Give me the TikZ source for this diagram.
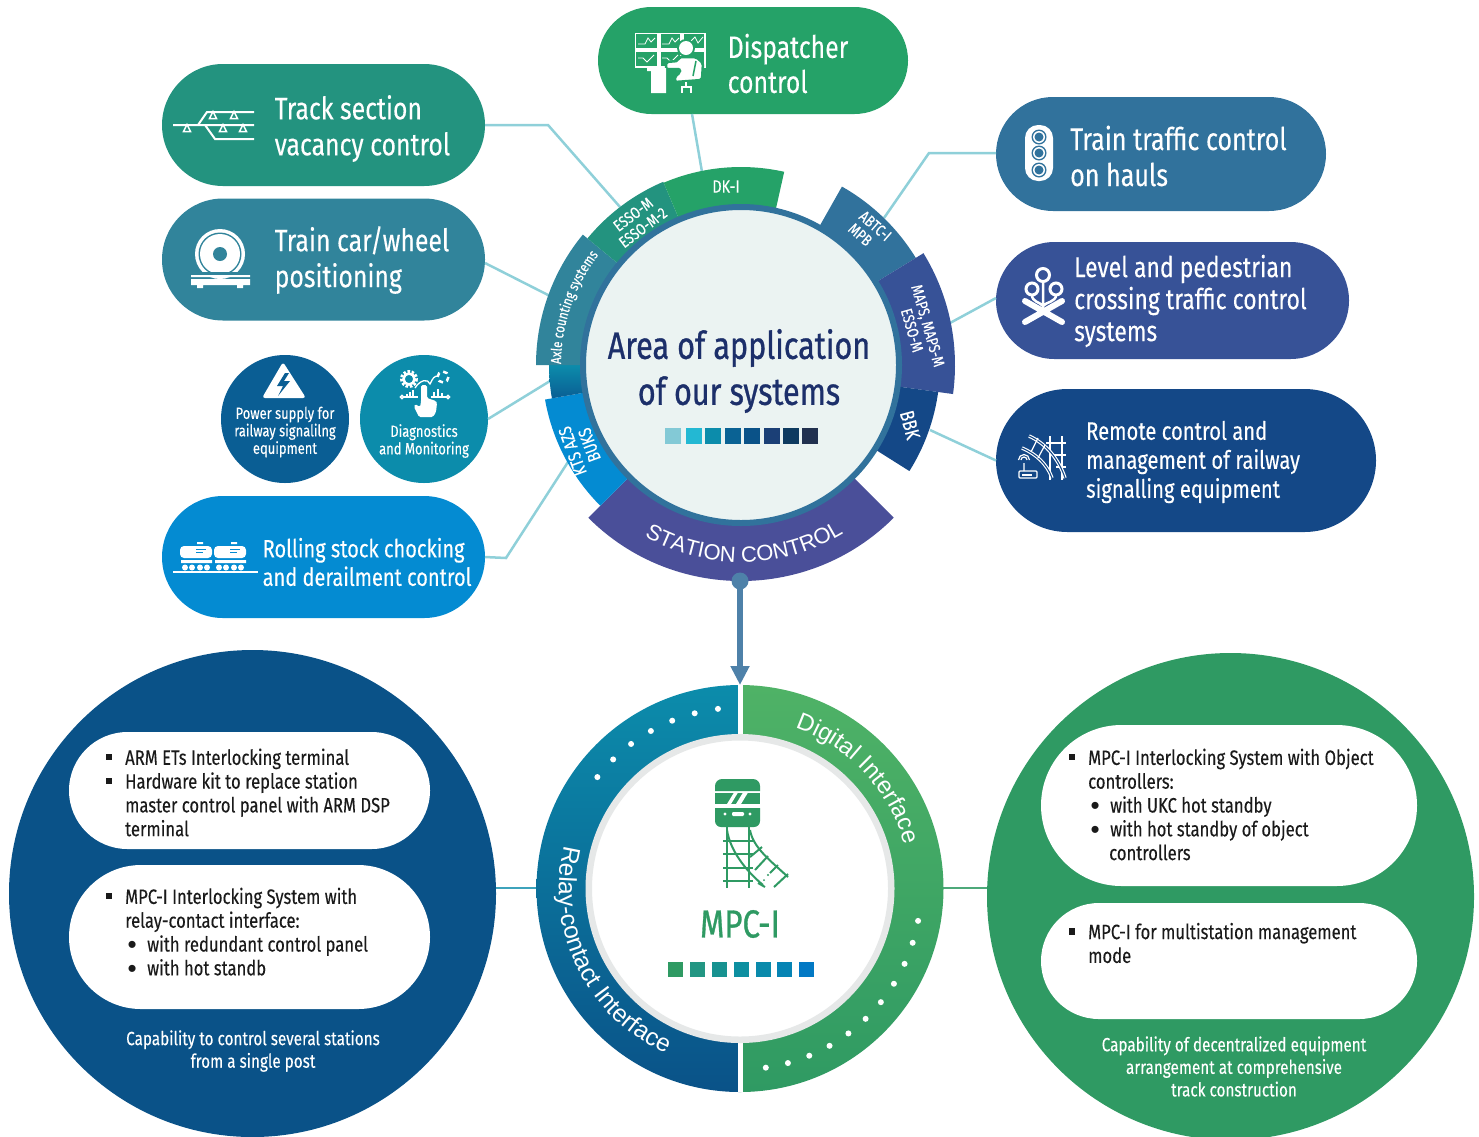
\documentclass[tikz,border=0pt]{standalone}
\usepackage{fontspec}
\setmainfont[FakeStretch=0.8,FakeBold=0.2]{Fira Sans}
\newfontfamily\corefont[FakeStretch=0.8,FakeBold=0.8]{Fira Sans}
\newfontfamily\arcfont{Liberation Sans}
\usetikzlibrary{arrows.meta,shapes.misc,decorations.text}

\definecolor{ctrack}{HTML}{23937F}
\definecolor{caxle}{HTML}{31849B}
\definecolor{croll}{HTML}{048BD2}
\definecolor{cdisp}{HTML}{25A268}
\definecolor{chaul}{HTML}{31729C}
\definecolor{clevel}{HTML}{375297}
\definecolor{cremote}{HTML}{144887}
\definecolor{cpower}{HTML}{0A5E94}
\definecolor{cdiag}{HTML}{0C8CAB}
\definecolor{cstation}{HTML}{4A4F99}
\definecolor{ccore}{HTML}{EBF3F2}
\definecolor{cnavy}{HTML}{1C2F6A}
\definecolor{cwire}{HTML}{8FD0D9}
\definecolor{carrow}{HTML}{4E81A9}
\definecolor{cblue}{HTML}{0A5288}
\definecolor{cgreen}{HTML}{2F9A63}
\definecolor{cgray}{HTML}{E6E8E8}
\definecolor{cink}{HTML}{1A1A1A}

\newcommand{\ringseg}[5]{\fill[#1] (#2:#4) arc[start angle=#2,end angle=#3,radius=#4] -- (#3:#5) arc[start angle=#3,end angle=#2,radius=#5] -- cycle;}
\newcommand{\sqitem}{\llap{\rule[0.22em]{6.5pt}{6.5pt}\hspace{13pt}}}
\newcommand{\dotitem}{\hspace*{22pt}\llap{\raisebox{-2pt}{\arcfont\fontsize{26}{20}\selectfont\textbullet}\hspace{10.5pt}}}

\begin{document}
\begin{tikzpicture}[x=1pt,y=-1pt]

\tikzstyle{pill}=[rounded rectangle,inner sep=0pt,outer sep=0pt,minimum height=122pt,minimum width=323pt]
\tikzstyle{disc}=[circle,inner sep=0pt,outer sep=0pt,minimum size=128pt]
\tikzstyle{bigdisc}=[circle,inner sep=0pt,outer sep=0pt,minimum size=487pt]
\tikzstyle{whitepill}=[rounded rectangle,inner sep=0pt,outer sep=0pt,fill=white]
\tikzstyle{pilltext}=[anchor=west,inner sep=0pt,align=left,text=white]
\tikzstyle{disctext}=[inner sep=0pt,align=center,text=white,font=\fontsize{16.2}{17.5}\selectfont]
\tikzstyle{listtext}=[anchor=west,inner sep=0pt,align=left,text=cink,font=\fontsize{20.8}{23.8}\selectfont]
\tikzstyle{captext}=[inner sep=0pt,align=center,text=white,font=\fontsize{19.1}{22.6}\selectfont]
\tikzstyle{seglabel}=[inner sep=0pt,align=center,text=white,font=\fontsize{16}{16.5}\selectfont]
\tikzstyle{wire}=[cwire,line width=2.5pt]
\tikzstyle{swatch}=[inner sep=0pt,outer sep=0pt,minimum size=16pt]
\tikzstyle{swatchb}=[inner sep=0pt,outer sep=0pt,minimum size=15pt]

\useasboundingbox (0,0) rectangle (1479,1136);

\node [pill,fill=ctrack] (track) at (323.5,125){};
\node [pill,fill=caxle] (wheel) at (323.5,259.5){};
\node [pill,fill=croll] (roll) at (323.5,557){};
\node [pill,fill=cdisp,minimum width=310pt,minimum height=107pt] (disp) at (753,60.5){};
\node [pill,fill=chaul,minimum width=330pt,minimum height=114pt] (haul) at (1161,154){};
\node [pill,fill=clevel,minimum width=353pt,minimum height=117pt] (level) at (1172.5,300.5){};
\node [pill,fill=cremote,minimum width=380pt,minimum height=143pt] (remote) at (1186,460.5){};
\node [disc,fill=cpower] (power) at (285,419){};
\node [disc,fill=cdiag] (diag) at (424,419){};

\node [pilltext,font=\fontsize{31}{36}\selectfont] (track_t) at ([xshift=112.5pt,yshift=-3.5pt]track.west){Track section\\vacancy control};
\node [pilltext,font=\fontsize{31}{36}\selectfont] (wheel_t) at ([xshift=112.5pt,yshift=-0.5pt]wheel.west){Train car/wheel\\positioning};
\node [pilltext,font=\fontsize{25}{28.5}\selectfont] (roll_t) at ([xshift=100.5pt,yshift=-5pt]roll.west){Rolling stock chocking\\and derailment control};
\node [pilltext,font=\fontsize{31}{35}\selectfont] (disp_t) at ([xshift=129.5pt,yshift=-3pt]disp.west){Dispatcher\\control};
\node [pilltext,font=\fontsize{31.3}{36}\selectfont] (haul_t) at ([xshift=74pt,yshift=-2pt]haul.west){Train traffic control\\on hauls};
\node [pilltext,font=\fontsize{28.7}{32}\selectfont] (level_t) at ([xshift=78pt,yshift=-0.5pt]level.west){Level and pedestrian\\crossing traffic control\\systems};
\node [pilltext,font=\fontsize{25.3}{29}\selectfont] (remote_t) at ([xshift=90pt,yshift=-1.5pt]remote.west){Remote control and\\management of railway\\signalling equipment};
\node [disctext] (power_t) at (285,432){Power supply for\\railway signalilng\\equipment};
\node [disctext] (diag_t) at (424,441){Diagnostics\\and Monitoring};

\coordinate (track_k) at (548,125);
\coordinate (track_e) at (620,207);
\coordinate (wheel_e) at (550,296);
\coordinate (diag_e) at (550,381);
\coordinate (roll_k) at (506,558);
\coordinate (roll_e) at (568,462);
\coordinate (disp_e) at (702,172);
\coordinate (haul_k) at (929,153);
\coordinate (haul_e) at (884,218);
\coordinate (level_e) at (950,323);
\coordinate (remote_e) at (930,430);

\draw[wire] (track.east)--(track_k)--(track_e);
\draw[wire] ([yshift=-3.5pt]wheel.east)--(wheel_e);
\draw[wire] (diag.east)--(diag_e);
\draw[wire] (roll.east)--(roll_k)--(roll_e);
\draw[wire] ([xshift=-61pt]disp.south)--(disp_e);
\draw[wire] ([yshift=1pt]haul.west)--(haul_k)--(haul_e);
\draw[wire] ([yshift=2.5pt]level.west)--(level_e);
\draw[wire] (remote.west)--(remote_e);

\begin{scope}[shift={(741,365)}]
\ringseg{cstation}{45}{135}{150}{216}
\ringseg{croll}{135}{170}{150}{199}
\shade[top color=cdiag,bottom color=cpower] (170:150) arc[start angle=170,end angle=180,radius=150] -- (180:192) arc[start angle=180,end angle=170,radius=192] -- cycle;
\ringseg{caxle}{180}{219.5}{150}{205}
\ringseg{ctrack}{219.5}{247}{150}{199}
\ringseg{cdisp}{247}{282.6}{150}{198}
\ringseg{chaul}{299.5}{328.5}{150}{205}
\ringseg{clevel}{328.5}{367.8}{150}{214}
\ringseg{cremote}{7.8}{32.2}{150}{199}
\path[decorate,decoration={text along path,text align=center,text color=white,text={|\arcfont\fontsize{22}{22}\selectfont|STATION CONTROL}}] (134:197) arc[start angle=134,end angle=44,radius=197];
\path[decorate,decoration={text along path,text align=center,text color=white,text={|\fontsize{14.6}{15}\selectfont|Axle counting systems}}] (180:180) arc[start angle=180,end angle=218,radius=180];
\end{scope}

\node [circle,inner sep=0pt,outer sep=0pt,minimum size=316pt,fill=ccore,draw=chaul,line width=6pt] (core) at (741,365){};
\node [inner sep=0pt,align=center,text=cnavy,font=\corefont\fontsize{38.2}{46}\selectfont] (core_t) at (739,371){Area of application\\of our systems};

\node [swatch,fill={rgb,255:red,131;green,201;blue,214}] (s1) at (673,436){};
\node [swatch,fill={rgb,255:red,35;green,184;blue,211},anchor=west] (s2) at ([xshift=5pt]s1.east){};
\node [swatch,fill=cdiag,anchor=west] (s3) at ([xshift=3pt]s2.east){};
\node [swatch,fill={rgb,255:red,10;green,98;blue,148},anchor=west] (s4) at ([xshift=4pt]s3.east){};
\node [swatch,fill=cblue,anchor=west] (s5) at ([xshift=3pt]s4.east){};
\node [swatch,fill={rgb,255:red,27;green,63;blue,118},anchor=west] (s6) at ([xshift=4pt]s5.east){};
\node [swatch,fill={rgb,255:red,14;green,58;blue,96},anchor=west] (s7) at ([xshift=3pt]s6.east){};
\node [swatch,fill={rgb,255:red,33;green,48;blue,79},anchor=west] (s8) at ([xshift=3pt]s7.east){};

\node [seglabel,font=\fontsize{18}{18}\selectfont] (dk_t) at (726,186.5){DK-I};
\node [seglabel,rotate=37] (esso_t) at (638,221){ESSO-M\\ESSO-M-2};
\node [seglabel,rotate=-41,align=left] (abtc_t) at (870,232){ABTC-I\\MPB};
\node [seglabel,rotate=-74] (maps_t) at (920,328){MAPS, MAPS-M\\ESSO-M};
\node [seglabel,rotate=-75,font=\fontsize{20}{20}\selectfont] (bbk_t) at (910,425){BBK};
\node [seglabel,rotate=110,font=\fontsize{18}{18}\selectfont] (kts_t) at (581,448){KTS AZS\\BUKS};

\node [bigdisc,fill=cblue] (relay) at (252.5,893.5){};
\node [bigdisc,fill=cgreen] (digital) at (1230.5,896.5){};
\node [whitepill,minimum width=361pt,minimum height=117pt] (relay_a) at (249.5,790.5){};
\node [whitepill,minimum width=361pt,minimum height=144pt] (relay_b) at (249.5,937){};
\node [whitepill,minimum width=376pt,minimum height=161pt] (digital_a) at (1229,805.5){};
\node [whitepill,minimum width=376pt,minimum height=116pt] (digital_b) at (1229,961){};

\node [listtext] (relay_at) at ([xshift=56pt,yshift=-2pt]relay_a.west){\sqitem ARM ETs Interlocking terminal\\\sqitem Hardware kit to replace station\\master control panel with ARM DSP\\terminal};
\node [listtext] (relay_bt) at ([xshift=56pt,yshift=4.5pt]relay_b.west){\sqitem MPC-I Interlocking System with\\relay-contact interface:\\\dotitem with redundant control panel\\\dotitem with hot standb};
\node [listtext] (digital_at) at ([xshift=47pt,yshift=1pt]digital_a.west){\sqitem MPC-I Interlocking System with Object\\controllers:\\\dotitem with UKC hot standby\\\dotitem with hot standby of object\\\hspace*{21pt}controllers};
\node [listtext] (digital_bt) at ([xshift=47pt,yshift=18pt]digital_b.west){\sqitem MPC-I for multistation management\\mode};
\node [captext] (relay_c) at (253,1051){Capability to control several stations\\from a single post};
\node [captext] (digital_c) at (1234,1066.5){Capability of decentralized equipment\\arrangement at comprehensive\\track construction};

\coordinate (mpc_l) at (537,888);
\coordinate (mpc_r) at (943,888);
\coordinate (mpc_top) at (740,685);
\coordinate (mpc_bot) at (740,1092);
\draw[color=cdiag!80!white,line width=2pt] ([yshift=5.5pt]relay.east)--(mpc_l);
\draw[color=cgreen!85!white,line width=2pt] (mpc_r)--([yshift=8.5pt]digital.west);

\begin{scope}[shift={(740,888.5)}]
\shade[top color=cdiag,middle color=cdiag!95!black,bottom color=cblue] (270:203.5) arc[start angle=270,end angle=90,radius=203.5] -- (90:150) arc[start angle=90,end angle=270,radius=150] -- cycle;
\shade[top color={rgb,255:red,79;green,178;blue,102},bottom color=cgreen] (270:203.5) arc[start angle=270,end angle=450,radius=203.5] -- (450:150) arc[start angle=450,end angle=270,radius=150] -- cycle;
\foreach \i in {0,...,6}
  \fill[white] ({263-7.5*\i}:181) circle (3);
\foreach \i in {0,...,10}
  \fill[white] ({10.3+7.15*\i}:181) circle (3);
\path[decorate,decoration={text along path,text align=center,text color=white,text={|\arcfont\fontsize{24}{24}\selectfont|Digital Interface}}] (287:170) arc[start angle=287,end angle=347,radius=170];
\path[decorate,decoration={text along path,text align=center,text color=white,text={|\arcfont\fontsize{24.5}{24}\selectfont|Relay-contact Interface}}] (195:181) arc[start angle=195,end angle=113,radius=181];
\end{scope}
\draw[white,line width=5pt] (mpc_top)--(mpc_bot);
\node [circle,inner sep=0pt,outer sep=0pt,minimum size=302.5pt,fill=white,draw=cgray,line width=6.5pt] (mpc_core) at (740,888.5){};

\node [circle,inner sep=0pt,outer sep=0pt,minimum size=17pt,fill=carrow] (src) at (740,581){};
\draw[-{Triangle[length=19pt,width=18pt]},line width=5.5pt,carrow] (src.center)--(mpc_top);

\node [inner sep=0pt,text=cgreen,font=\corefont\fontsize{39}{39}\selectfont] (mpc_t) at (740,924){MPC-I};
\node [swatchb,fill=cgreen] (b1) at (675.5,969.5){};
\node [swatchb,fill={rgb,255:red,35;green,150;blue,131},anchor=west] (b2) at ([xshift=7pt]b1.east){};
\node [swatchb,fill={rgb,255:red,23;green,146;blue,144},anchor=west] (b3) at ([xshift=7pt]b2.east){};
\node [swatchb,fill={rgb,255:red,13;green,143;blue,160},anchor=west] (b4) at ([xshift=7pt]b3.east){};
\node [swatchb,fill={rgb,255:red,10;green,138;blue,171},anchor=west] (b5) at ([xshift=7pt]b4.east){};
\node [swatchb,fill={rgb,255:red,6;green,132;blue,180},anchor=west] (b6) at ([xshift=6pt]b5.east){};
\node [swatchb,fill={rgb,255:red,3;green,121;blue,196},anchor=west] (b7) at ([xshift=7pt]b6.east){};

\fill[cgreen] (715,791)--(715,786) arc[start angle=180,end angle=270,radius=7]--(753,779) arc[start angle=270,end angle=360,radius=7]--(760,791)--cycle;
\fill[cgreen] (715,792.5) rectangle (760,804);
\fill[white] (727,804)--(734,792.5)--(737,792.5)--(738,792.5)--(731,804)--cycle (736,804)--(743,792.5)--(748,792.5)--(741,804)--cycle;
\fill[cgreen] (715,808)--(760,808)--(760,821) arc[start angle=0,end angle=90,radius=6]--(721,827) arc[start angle=90,end angle=180,radius=6]--cycle;
\fill[white] (725,814) circle (1.7) (750,814) circle (1.7);
\fill[white,rounded corners=1.2pt] (732,812) rectangle (744,816);
\draw[cgreen,line width=2pt] (727,827)--(727,888) (749,827)--(749,888);
\foreach \y in {841,854,868,881}
  \draw[cgreen,line width=2pt] (723,\y)--(753,\y);
\draw[cgreen,line width=2pt] (727,830) .. controls (730,850) and (745,870) .. (763,885);
\draw[cgreen,line width=2pt] (750,830) .. controls (753,848) and (772,862) .. (788,877);
\draw[cgreen,line width=2pt] (762,847)--(750,857) (768,856)--(755,870) (778,865)--(770,873) (788,874)--(774,887) (758,883)--(765,887);
\fill[cgreen] (768,875) circle (1.2) (764,880) circle (1);

\draw[white,line width=2pt] (173,125)--(254,125) (198,125)--(207,112)--(254,112) (205,125)--(215,139)--(254,139);
\foreach \p in {(187,129),(223,129),(243,129),(213,116),(234,116)}
  \draw[white,fill=ctrack,line width=1.5pt] \p ++(-3.5,2.5)--++(7,0)--++(-3.5,-7)--cycle;

\fill[white] (220,254) circle (25);
\fill[caxle] (220,254) circle (21.5);
\fill[white] (220,254) circle (20);
\fill[caxle] (220,254) circle (7);
\fill[caxle] (191,272) rectangle (250,276);
\fill[white] (191,275) rectangle (250,277) (191,279) rectangle (250,285) (197,285) rectangle (203,288) (237,285) rectangle (243,288);

\fill[white,rounded corners=3pt] (283,362)--(306,398)--(262,398)--cycle;
\fill[cpower] (285,373)--(277,386)--(283,386)--(278,396)--(290,381)--(284,381)--(289,373)--cycle;

\draw[white,line width=3pt,dash pattern=on 2.5pt off 1.7pt] (409,379) circle (7.5);
\draw[white,line width=2.5pt] (409,379) circle (5.5);
\draw[white,line width=2.5pt,dash pattern=on 4.5pt off 4pt] (443,377) circle (5.5);
\draw[white,line width=1.3pt] (415,388) .. controls (420,380) and (428,378) .. (430,384) .. controls (433,378) and (434,376) .. (438,376);
\draw[white,line width=1.3pt] (402,397)--(418,397) (431,397)--(448,397);
\draw[white,line width=1.3pt,fill=cdiag] (402,397) circle (1.6) (448,397) circle (1.6);
\draw[white,line width=1.3pt] (407,397)--(407,394) (410,397)--(410,392) (413,397)--(413,390) (434,397)--(434,392) (438,397)--(438,389) (442,397)--(442,393);
\fill[white,rounded corners=1.5pt] (421,402)--(421,385)--(427,385)--(427,398)--(436,401)--(437,403)--(436,412)--(433,417)--(419,417)--(414,407)--(415,404)--(420,407)--cycle;

\fill[white,rounded corners=4pt] (180,546) rectangle (212,558) (214,546) rectangle (246,558);
\fill[white] (197,542) rectangle (203,544) (231,542) rectangle (237,544);
\fill[white] (181,560) rectangle (212,563) (215,560) rectangle (246,563);
\foreach \x in {185,192,200,207,219,226,234,241}
  \fill[white] (\x,567.5) circle (3);
\draw[croll,line width=1pt] (196,549)--(206,549) (196,552)--(203,552) (230,549)--(240,549) (230,552)--(237,552);
\draw[white,line width=1.5pt] (173,572)--(258,572);

\draw[white,line width=1.2pt] (635.5,33.5) rectangle (658,49) (660,33.5) rectangle (681,49) (683,33.5) rectangle (705,49) (635.5,51) rectangle (658,67) (660,51) rectangle (681,67) (683,51) rectangle (705,67);
\draw[white,line width=0.8pt] (638,44)--(645,44)--(648,38)--(651,42)--(655,38) (662,44)--(669,44)--(672,38)--(675,42)--(679,38) (690,42)--(695,37)--(698,43)--(703,37) (638,58)--(643,58)--(647,62)--(654,55) (662,58)--(667,58)--(671,62)--(678,55);
\fill[cdisp] (686,48) circle (9);
\fill[white] (686,48) circle (7);
\fill[white,rounded corners=2pt,draw=cdisp,line width=2.5pt] (679,57)--(696,57)--(703,63)--(702,80)--(675,82)--(675,76)--(680,73)--(680,69)--(666,69)--(666,62)--(678,61)--cycle;
\draw[cdisp,line width=1.5pt] (696,61)--(693,76);
\fill[white] (647,68) rectangle (666,71) (651,71) rectangle (666,93);
\draw[white,line width=2pt] (686,82)--(686,87) (682,93)--(682,87)--(691,87)--(691,93);

\fill[white,rounded corners=13pt] (1025,125) rectangle (1053,181);
\foreach \y in {137,153,170}{
  \fill[chaul] (1039,\y) circle (7.5);
  \fill[white] (1039,\y) circle (6);
  \fill[chaul] (1039,\y) circle (4.5);
}

\draw[white,line width=3pt] (1043,275) circle (6.5) (1032,289) circle (6) (1056,289) circle (6);
\draw[white,line width=2.5pt] (1043,282)--(1043,312) (1032,295) .. controls (1032,302) and (1040,302) .. (1043,306) (1056,295) .. controls (1056,302) and (1046,302) .. (1043,306);
\draw[white,line width=6pt,line cap=round] (1025,322)--(1062,301) (1025,301)--(1062,322);

\draw[white,line width=1.2pt] (1050,436)--(1050,480) (1062,436)--(1062,480) (1046,443)--(1066,443) (1052,455)--(1066,455) (1056,467)--(1066,467);
\draw[white,line width=3.4pt] (1029,436) .. controls (1047,444) and (1059,460) .. (1065,478) (1022,448) .. controls (1036,454) and (1047,464) .. (1052,478);
\draw[cremote,line width=1.1pt] (1029,436) .. controls (1047,444) and (1059,460) .. (1065,478) (1022,448) .. controls (1036,454) and (1047,464) .. (1052,478);
\draw[white,line width=1.2pt] (1038,438)--(1031,452) (1045,445)--(1038,458);
\draw[white,line width=1.2pt,rounded corners=1pt] (1019,471) rectangle (1037,478);
\fill[white] (1022,473.5) rectangle (1032,475.5);
\draw[white,line width=1.2pt] (1024,471)--(1024,463) (1021,460) arc[start angle=180,end angle=360,radius=3] (1018.5,460) arc[start angle=180,end angle=360,radius=5.5];

\end{tikzpicture}
\end{document}
